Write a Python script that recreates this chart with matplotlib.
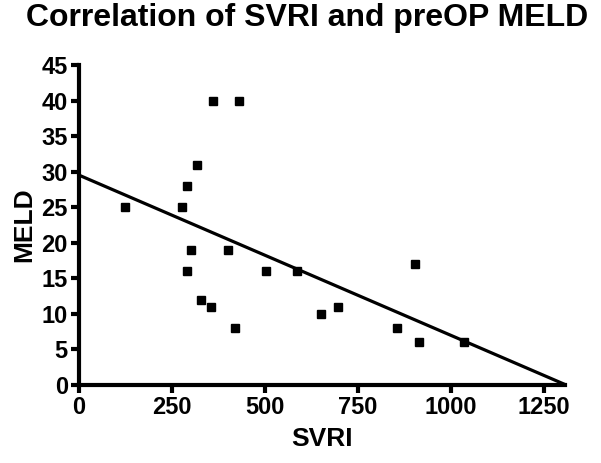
import matplotlib
matplotlib.use('Agg')
import matplotlib.pyplot as plt
import numpy as np

plt.rcParams['font.family'] = ['Liberation Sans', 'DejaVu Sans']
plt.rcParams['font.weight'] = 'bold'

# SVRI vs preoperative MELD
svri = [125, 277, 290, 318, 360, 430, 302, 290, 400, 327,
        355, 418, 503, 585, 650, 697, 904, 856, 915, 1035]
meld = [25, 25, 28, 31, 40, 40, 19, 16, 19, 12,
        11, 8, 16, 16, 10, 11, 17, 8, 6, 6]

x_ticks = [0, 250, 500, 750, 1000, 1250]
y_ticks = list(range(0, 50, 5))

fig = plt.figure(figsize=(6.01, 4.63), dpi=100)
ax = fig.add_axes([0.1314, 0.1685, 0.8086, 0.6911])

ax.plot(svri, meld, 's', color='black', markersize=5.5)

# linear regression line over the axis range
slope, intercept = np.polyfit(svri, meld, 1)
xs = np.array([0, 1306])
ax.plot(xs, slope * xs + intercept, color='black', lw=2.3, clip_on=False)

ax.set_xlim(0, 1306)
ax.set_ylim(0, 45)
ax.set_xticks(x_ticks)
ax.set_yticks(y_ticks)
for s in ['top', 'right']:
    ax.spines[s].set_visible(False)
for s in ['left', 'bottom']:
    ax.spines[s].set_linewidth(3)
ax.tick_params(width=3, length=6, labelsize=17, pad=2)

ax.set_xlabel('SVRI', fontsize=19, fontweight='bold', labelpad=6)
ax.set_ylabel('MELD', fontsize=19, fontweight='bold', labelpad=4)
fig.text(0.511, 0.962, 'Correlation of SVRI and preOP MELD', fontsize=23,
         fontweight='bold', ha='center', va='center')

plt.savefig('out.png', dpi=100)
